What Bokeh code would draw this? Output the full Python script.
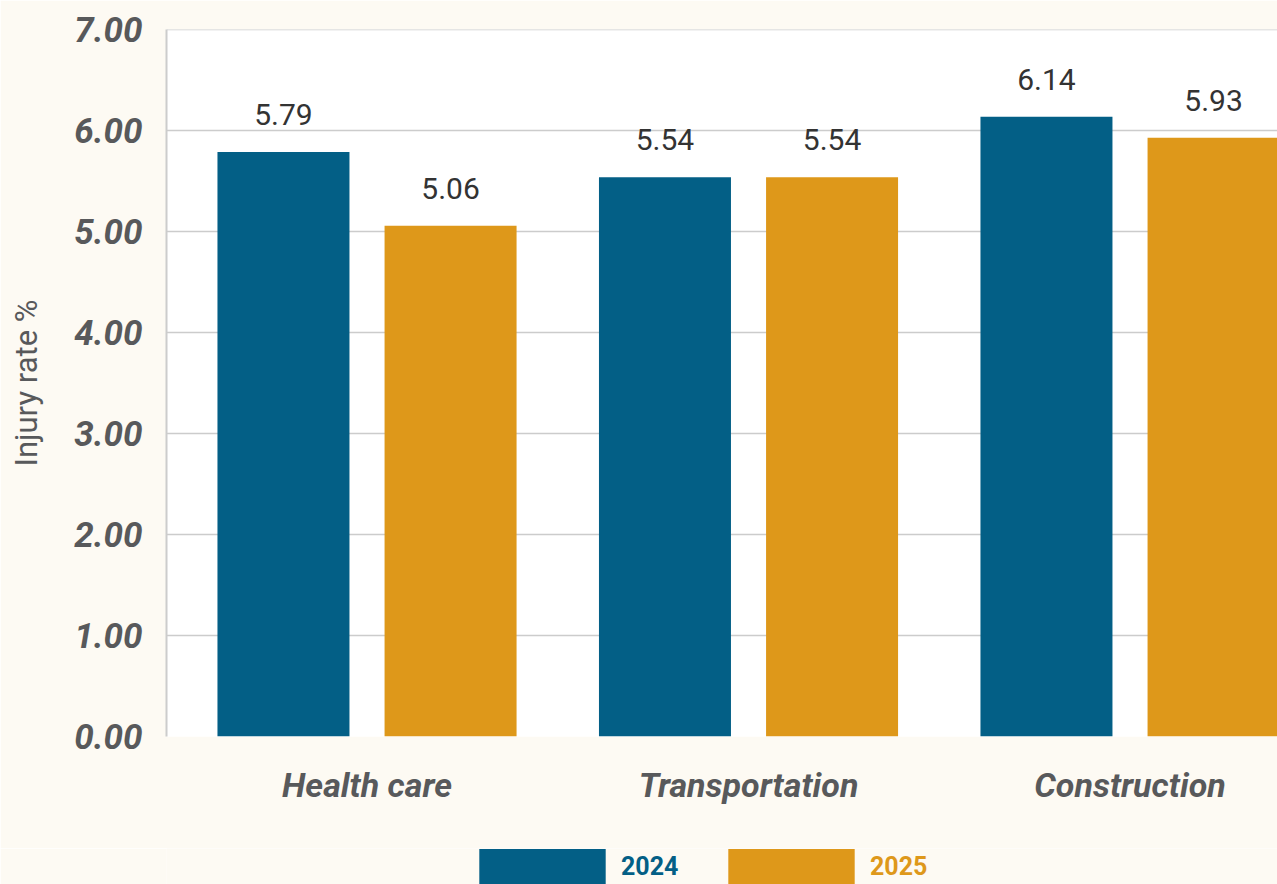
from bokeh.plotting import figure
from bokeh.models import ColumnDataSource, Range1d, FixedTicker, Legend, LegendItem, LabelSet, CustomJSTickFormatter
from bokeh.core.properties import value
from bokeh.layouts import column
from bokeh.embed import file_html
from bokeh.resources import INLINE

categories = ["Health care", "Transportation", "Construction"]
years = ["2024", "2025"]
values_2024 = [5.79, 5.54, 6.14]
values_2025 = [5.06, 5.54, 5.93]
y_ticks = [0, 1, 2, 3, 4, 5, 6, 7]

BLUE = "#035F86"
ORANGE = "#DE981A"
BG = "#FDFAF3"
GRAY = "#58595B"
FONT = "Roboto"

xs = list(range(len(categories)))
off = 0.219
bw = 0.346

src24 = ColumnDataSource(dict(x=[x - off for x in xs], top=values_2024,
                              lab=["%.2f" % v for v in values_2024]))
src25 = ColumnDataSource(dict(x=[x + off for x in xs], top=values_2025,
                              lab=["%.2f" % v for v in values_2025]))

p = figure(width=1277, height=848, output_backend="svg", toolbar_location=None,
           x_range=Range1d(-0.5256, 2.3866), y_range=Range1d(0, 7.003),
           min_border_left=166, min_border_right=0, min_border_top=29, min_border_bottom=112)
p.background_fill_color = "white"
p.border_fill_color = BG
p.outline_line_color = None

r24 = p.vbar(x="x", top="top", width=bw, source=src24, color=BLUE, line_color=None)
r25 = p.vbar(x="x", top="top", width=bw, source=src25, color=ORANGE, line_color=None)

for s in (src24, src25):
    p.add_layout(LabelSet(x="x", y="top", text="lab", source=s, text_align="center",
                          text_baseline="bottom", y_offset=27, text_font=value(FONT),
                          text_font_size=value("30px"), text_color="#333333"))

p.xaxis.ticker = FixedTicker(ticks=xs)
p.xaxis.formatter = CustomJSTickFormatter(args=dict(cats=categories),
                                          code="return cats[Math.round(tick)]")
p.xaxis.major_label_text_font = FONT
p.xaxis.major_label_text_font_style = "bold italic"
p.xaxis.major_label_text_font_size = "34px"
p.xaxis.major_label_text_color = GRAY
p.xaxis.major_label_standoff = 22
p.xaxis.axis_line_color = None
p.xaxis.major_tick_line_color = None
p.xaxis.minor_tick_line_color = None

p.yaxis.ticker = FixedTicker(ticks=y_ticks)
p.yaxis.formatter = CustomJSTickFormatter(code="return tick.toFixed(2)")
p.yaxis.major_label_text_font = FONT
p.yaxis.major_label_text_font_style = "bold italic"
p.yaxis.major_label_text_font_size = "35px"
p.yaxis.major_label_text_color = GRAY
p.yaxis.major_label_standoff = 18
p.yaxis.axis_line_color = "#cccccc"
p.yaxis.axis_line_width = 2
p.yaxis.major_tick_line_color = None
p.yaxis.minor_tick_line_color = None
p.yaxis.axis_label = "Injury rate %"
p.yaxis.axis_label_text_font = FONT
p.yaxis.axis_label_text_font_style = "normal"
p.yaxis.axis_label_text_font_size = "31px"
p.yaxis.axis_label_text_color = GRAY
p.yaxis.axis_label_standoff = 26

p.xgrid.grid_line_color = None
p.ygrid.grid_line_color = "#cccccc"
p.ygrid.grid_line_width = 1.5

# legend strip
leg = figure(width=1277, height=36, output_backend="svg", toolbar_location=None,
             x_range=Range1d(0, 1), y_range=Range1d(0, 1),
             min_border=0, min_border_left=0, min_border_right=0,
             min_border_top=0, min_border_bottom=0)
leg.axis.visible = False
leg.grid.visible = False
leg.outline_line_color = None
leg.background_fill_color = BG
leg.border_fill_color = BG
dummy = dict(x=[0], top=[0])
l24 = leg.vbar(x="x", top="top", width=0.0, source=ColumnDataSource(dummy), color=BLUE, line_color=None)
l25 = leg.vbar(x="x", top="top", width=0.0, source=ColumnDataSource(dummy), color=ORANGE, line_color=None)

for rend, yr, col, xloc in ((l24, years[0], BLUE, 297), (l25, years[1], ORANGE, 546)):
    lg = Legend(items=[LegendItem(label=yr, renderers=[rend])], location=(xloc, -5),
                orientation="horizontal", glyph_width=158, glyph_height=45,
                label_standoff=0, padding=0, margin=0, border_line_color=None,
                background_fill_alpha=0, label_text_font=FONT,
                label_text_font_style="bold", label_text_font_size="25px",
                label_text_color=col, label_height=45)
    leg.add_layout(lg, "center")

open("out.html", "w").write(file_html(column(p, leg, spacing=0), INLINE))
